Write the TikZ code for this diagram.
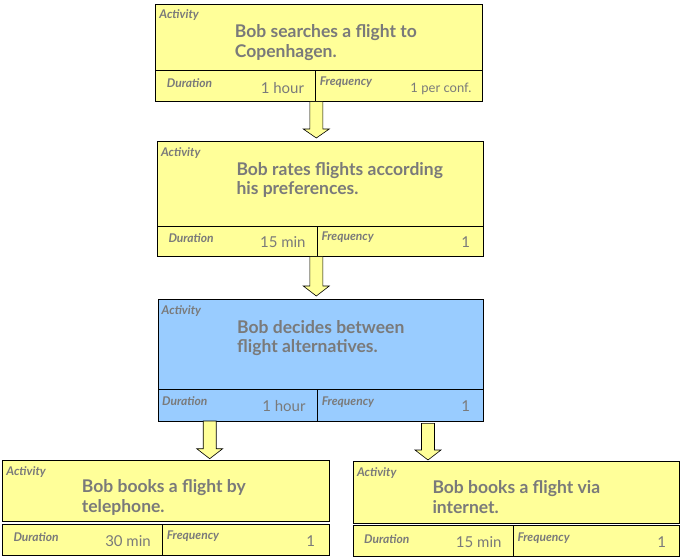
\documentclass[tikz,border=0pt]{standalone}
\usepackage{fontspec}
\setmainfont{Lato}
\usetikzlibrary{calc}
\definecolor{jaune}{HTML}{FFFF99}
\definecolor{bleu}{HTML}{99CCFF}
\definecolor{gris}{HTML}{7A7A7A}
\tikzset{
	boite/.style={draw=black, line width=0.8pt, fill=jaune, rectangle, inner sep=0pt, outer sep=0pt, anchor=north west},
	boitebleue/.style={boite, fill=bleu},
	etiq/.style={inner sep=0pt, text=gris, font=\fontsize{12}{14}\selectfont\bfseries\itshape, anchor=base west},
	titre/.style={inner sep=0pt, text=gris, font=\fontsize{17.5}{19.5}\selectfont\bfseries, align=left, anchor=north west},
	valeur/.style={inner sep=0pt, text=gris, font=\fontsize{15}{18}\selectfont, anchor=base east},
	fleche/.style={draw=black, line width=0.6pt, fill=jaune, line join=miter}
}
\begin{document}
\begin{tikzpicture}[x=1pt, y=-1pt]
			\useasboundingbox (0,0) rectangle (681,559);
			%Boites des activites
			\node[boite, minimum width=326.3, minimum height=66.7] (act1) at (155.7,4) {};
			\node[boite, minimum width=160, minimum height=31] (dur1) at (act1.south west) {};
			\node[boite, minimum width=166.3, minimum height=31] (frq1) at (dur1.north east) {};
			\node[boite, minimum width=326, minimum height=84.3] (act2) at (157.3,141.7) {};
			\node[boite, minimum width=160, minimum height=30.7] (dur2) at (act2.south west) {};
			\node[boite, minimum width=166, minimum height=30.7] (frq2) at (dur2.north east) {};
			\node[boitebleue, minimum width=325.7, minimum height=90] (act3) at (158,299.3) {};
			\node[boitebleue, minimum width=159.7, minimum height=31.7] (dur3) at (act3.south west) {};
			\node[boitebleue, minimum width=166, minimum height=31.7] (frq3) at (dur3.north east) {};
			\node[boite, minimum width=326.6, minimum height=61.7] (act4) at (2.7,460) {};
			\node[boite, minimum width=160, minimum height=31.7] (dur4) at (2.7,524) {};
			\node[boite, minimum width=166.6, minimum height=31.7] (frq4) at (dur4.north east) {};
			\node[boite, minimum width=326, minimum height=62.3] (act5) at (353.3,461) {};
			\node[boite, minimum width=160, minimum height=31] (dur5) at (353.3,525.7) {};
			\node[boite, minimum width=166, minimum height=31] (frq5) at (dur5.north east) {};
			%Textes
			\node[etiq] (lact1) at ($(act1.north west)+(3.5,15)$) {Activity};
			\node[titre] (tact1) at ($(act1.north west)+(79,20.5)$) {Bob searches a flight to\\Copenhagen.};
			\node[etiq] (ldur1) at ($(dur1.north west)+(11,16.7)$) {Duration};
			\node[valeur] (vdur1) at ($(dur1.north east)+(-11.5,22.5)$) {1 hour};
			\node[etiq] (lfrq1) at ($(frq1.north west)+(4,15)$) {Frequency};
			\node[valeur, font=\fontsize{13}{15}\selectfont] (vfrq1) at ($(frq1.north east)+(-10.3,22)$) {1 per conf.};
			\node[etiq] (lact2) at ($(act2.north west)+(3.5,15)$) {Activity};
			\node[titre] (tact2) at ($(act2.north west)+(79,20.5)$) {Bob rates flights according\\his preferences.};
			\node[etiq] (ldur2) at ($(dur2.north west)+(11,16.7)$) {Duration};
			\node[valeur] (vdur2) at ($(dur2.north east)+(-11.5,22)$) {15 min};
			\node[etiq] (lfrq2) at ($(frq2.north west)+(4,15)$) {Frequency};
			\node[valeur] (vfrq2) at ($(frq2.north east)+(-13,22)$) {1};
			\node[etiq] (lact3) at ($(act3.north west)+(3.5,15)$) {Activity};
			\node[titre] (tact3) at ($(act3.north west)+(79,20.5)$) {Bob decides between\\flight alternatives.};
			\node[etiq] (ldur3) at ($(dur3.north west)+(4,15.7)$) {Duration};
			\node[valeur] (vdur3) at ($(dur3.north east)+(-12,22.4)$) {1 hour};
			\node[etiq] (lfrq3) at ($(frq3.north west)+(4,15.7)$) {Frequency};
			\node[valeur] (vfrq3) at ($(frq3.north east)+(-13.5,22.4)$) {1};
			\node[etiq] (lact4) at ($(act4.north west)+(3.5,15)$) {Activity};
			\node[titre] (tact4) at ($(act4.north west)+(79,19.5)$) {Bob books a flight by\\telephone.};
			\node[etiq] (ldur4) at ($(dur4.north west)+(10.6,17)$) {Duration};
			\node[valeur] (vdur4) at ($(dur4.north east)+(-11.7,22.7)$) {30 min};
			\node[etiq] (lfrq4) at ($(frq4.north west)+(4,15)$) {Frequency};
			\node[valeur] (vfrq4) at ($(frq4.north east)+(-14,22.7)$) {1};
			\node[etiq] (lact5) at ($(act5.north west)+(3.5,15)$) {Activity};
			\node[titre] (tact5) at ($(act5.north west)+(79,19.5)$) {Bob books a flight via\\internet.};
			\node[etiq] (ldur5) at ($(dur5.north west)+(10.7,17.6)$) {Duration};
			\node[valeur] (vdur5) at ($(dur5.north east)+(-11.6,21.6)$) {15 min};
			\node[etiq] (lfrq5) at ($(frq5.north west)+(4,16)$) {Frequency};
			\node[valeur] (vfrq5) at ($(frq5.north east)+(-13,21.6)$) {1};
			%Fleches
			\coordinate (f1a) at ($(dur1.south east)+(0.6,0)$);
			\coordinate (f1b) at ($(f1a |- act2.north)+(0,-3.7)$);
			\coordinate (f2a) at ($(dur2.south east)+(-1,0)$);
			\coordinate (f2b) at ($(f2a |- act3.north)+(0,-3.3)$);
			\coordinate (f3a) at (209.7,421);
			\coordinate (f3b) at ($(f3a |- act4.north)+(0,-1.3)$);
			\coordinate (f4a) at (428,423.3);
			\coordinate (f4b) at ($(f4a |- act5.north)+(0,-1)$);
			\draw[fleche] let \p1=(f1a), \p2=(f1b) in (\x1-6.5pt,\y1) -- (\x1-6.5pt,\y2+9pt) -- (\x1-13pt,\y2+9pt) -- (\x1,\y2) -- (\x1+13pt,\y2+9pt) -- (\x1+6.5pt,\y2+9pt) -- (\x1+6.5pt,\y1) -- cycle;
			\draw[fleche] let \p1=(f2a), \p2=(f2b) in (\x1-6.5pt,\y1) -- (\x1-6.5pt,\y2+10pt) -- (\x1-13pt,\y2+10pt) -- (\x1,\y2) -- (\x1+13pt,\y2+10pt) -- (\x1+6.5pt,\y2+10pt) -- (\x1+6.5pt,\y1) -- cycle;
			\draw[fleche] let \p1=(f3a), \p2=(f3b) in (\x1-6.5pt,\y1) -- (\x1-6.5pt,\y2+10pt) -- (\x1-13pt,\y2+10pt) -- (\x1,\y2) -- (\x1+13pt,\y2+10pt) -- (\x1+6.5pt,\y2+10pt) -- (\x1+6.5pt,\y1) -- cycle;
			\draw[fleche] let \p1=(f4a), \p2=(f4b) in (\x1-6.5pt,\y1) -- (\x1-6.5pt,\y2+10pt) -- (\x1-13pt,\y2+10pt) -- (\x1,\y2) -- (\x1+13pt,\y2+10pt) -- (\x1+6.5pt,\y2+10pt) -- (\x1+6.5pt,\y1) -- cycle;
		\end{tikzpicture}
\end{document}
